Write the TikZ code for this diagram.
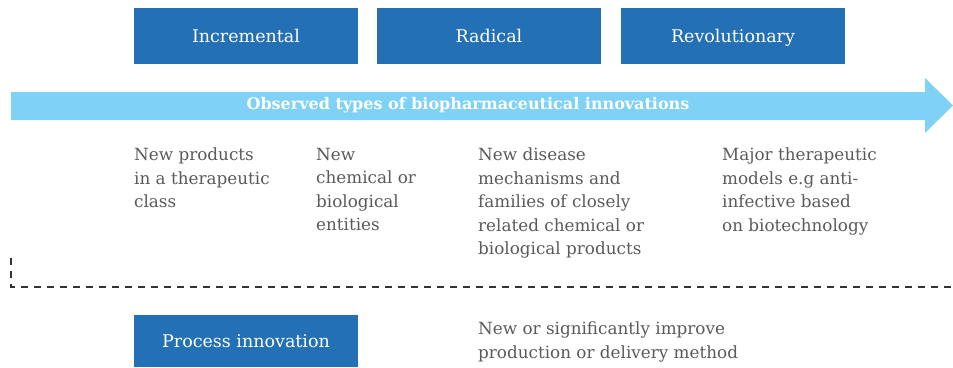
\documentclass[tikz,border=0pt]{standalone}
\usepackage{fontspec}
\setmainfont{DejaVu Serif}
\begin{document}
\begin{tikzpicture}[x=1pt,y=-1pt,
  catbox/.style={fill=boxblue, draw=none, minimum width=224pt, minimum height=56pt, inner sep=0pt, text height=13pt, text depth=0.5pt, text=white, font=\fontsize{17.5}{20}\selectfont},
  desc/.style={anchor=north west, inner sep=0pt, align=left, text=txtgray, font=\fontsize{16.8}{23.5}\selectfont},
  dashline/.style={draw=lineblack, line width=1.2pt, dash pattern=on 7pt off 6pt}
]
\definecolor{boxblue}{HTML}{2470B5}
\definecolor{arrowblue}{HTML}{7FD2F5}
\definecolor{txtgray}{HTML}{5A5A5A}
\definecolor{lineblack}{HTML}{333333}
\useasboundingbox (0,0) rectangle (953,367);
% boxes
\node[catbox] (inc) at (246,36) {Incremental};
\node[catbox] (rad) at (489,36) {Radical};
\node[catbox] (rev) at (733,36) {Revolutionary};
% arrow
\fill[arrowblue] (11,92) -- (925,92) -- (925,78) -- (953,105.5) -- (925,133) -- (925,120) -- (11,120) -- cycle;
\node[text=white, font=\fontsize{16}{19}\selectfont\bfseries] (obs) at (468,105) {Observed types of biopharmaceutical innovations};
% descriptions
\node[desc] (d1) at (134,148) {New products\\in a therapeutic\\class};
\node[desc] (d2) at (316,148) {New\\chemical or\\biological\\entities};
\node[desc] (d3) at (478,148) {New disease\\mechanisms and\\families of closely\\related chemical or\\biological products};
\node[desc] (d4) at (722,148) {Major therapeutic\\models e.g anti-\\infective based\\on biotechnology};
% dashed line
\coordinate (dtop) at (11,258);
\coordinate (dcorner) at (11,287);
\coordinate (dend) at (953,287);
\draw[dashline] (dtop) -- (dcorner) -- (dend);
% process
\node[catbox, minimum height=52pt] (proc) at (246,341) {Process innovation};
\node[desc] (pd) at (478,322) {New or significantly improve\\production or delivery method};
\end{tikzpicture}
\end{document}
